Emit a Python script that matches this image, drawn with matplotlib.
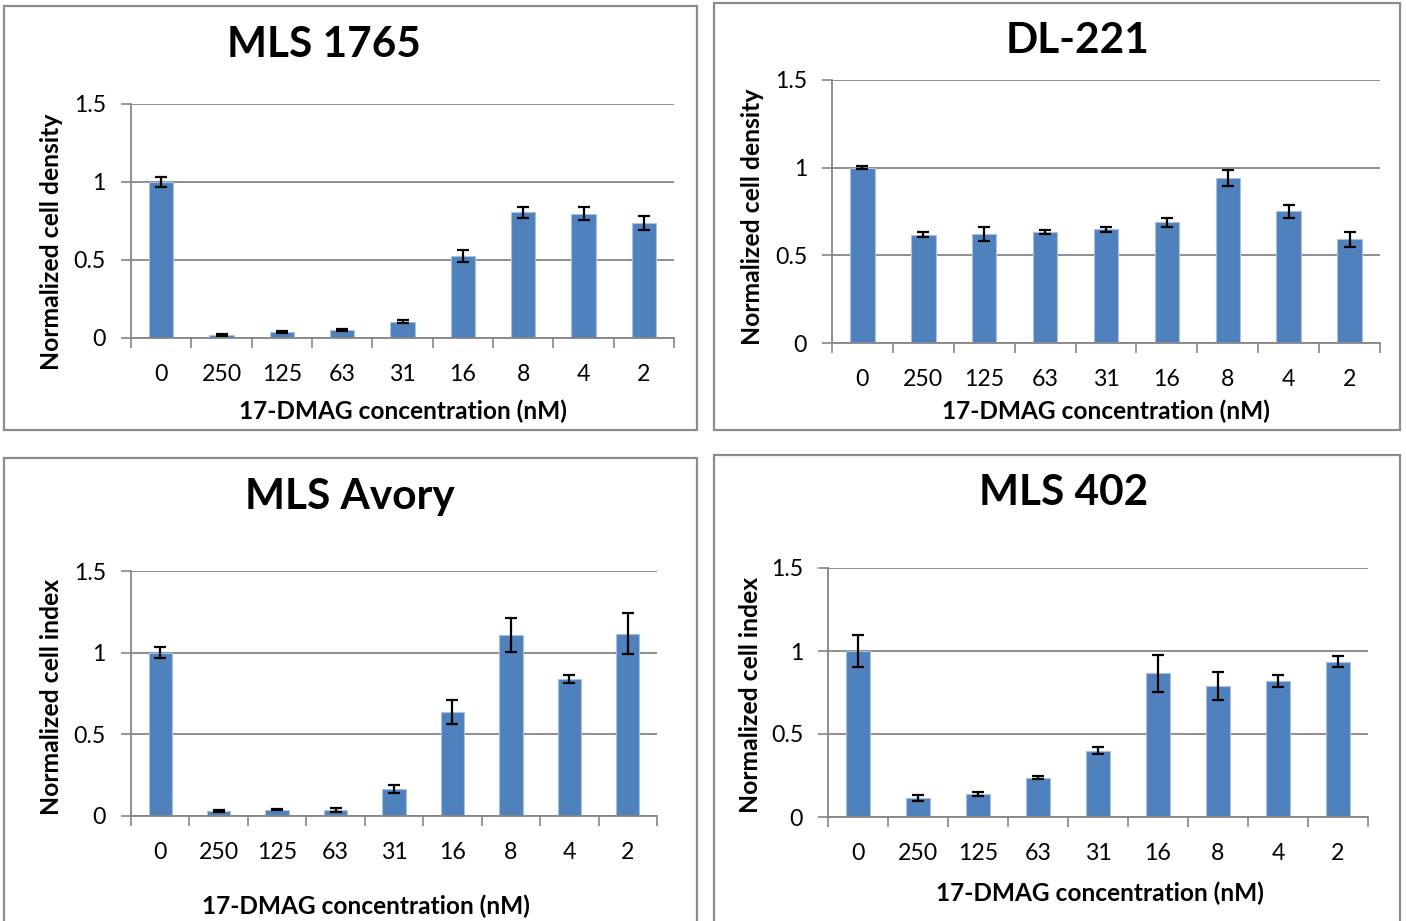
import matplotlib
matplotlib.use("Agg")
import matplotlib.pyplot as plt
from matplotlib.patches import Rectangle
import numpy as np

plt.rcParams['font.family'] = ['Lato', 'DejaVu Sans']

W, H = 1406, 921

# 17-DMAG concentrations (nM), as printed under the bars
concentrations = ["0", "250", "125", "63", "31", "16", "8", "4", "2"]

mls1765_mean = [1.00, 0.02, 0.04, 0.05, 0.105, 0.525, 0.805, 0.798, 0.736]
mls1765_err = [0.034, 0.005, 0.005, 0.006, 0.012, 0.040, 0.036, 0.042, 0.045]

dl221_mean = [1.00, 0.617, 0.623, 0.633, 0.648, 0.689, 0.941, 0.750, 0.591]
dl221_err = [0.010, 0.015, 0.040, 0.014, 0.015, 0.026, 0.045, 0.038, 0.042]

avory_mean = [1.00, 0.031, 0.039, 0.037, 0.165, 0.637, 1.108, 0.839, 1.116]
avory_err = [0.035, 0.005, 0.005, 0.011, 0.025, 0.076, 0.104, 0.024, 0.126]

mls402_mean = [1.00, 0.113, 0.139, 0.237, 0.400, 0.865, 0.787, 0.821, 0.936]
mls402_err = [0.096, 0.019, 0.012, 0.010, 0.021, 0.110, 0.085, 0.037, 0.031]

BAR = "#4F81BD"
GRID = "#868686"
FRAME = "#8C8C8C"


def px_rect(x0, y0, x1, y1):
    """pixel box (top-left origin) -> figure fraction [l, b, w, h]"""
    return [x0 / W, 1 - y1 / H, (x1 - x0) / W, (y1 - y0) / H]


def draw_panel(fig, frame, axbox, title, title_xy, ylabel, ylabel_xy,
               xlabel_xy, means, errs):
    l, b, w, h = px_rect(*frame)
    fig.patches.append(Rectangle((l, b), w, h, transform=fig.transFigure,
                                 fill=False, edgecolor=FRAME, linewidth=1.6))
    ax = fig.add_axes(px_rect(*axbox))
    x = np.arange(len(concentrations))
    ax.set_axisbelow(True)
    ax.bar(x, means, width=0.4, color=BAR, edgecolor="#A9C0DF", linewidth=0.8,
           zorder=2)
    ax.errorbar(x, means, yerr=errs, fmt="none", ecolor="black",
                elinewidth=1.6, capsize=4.3, capthick=1.6, zorder=3)
    ax.set_xlim(-0.5, len(concentrations) - 0.5)
    ax.set_ylim(0, 1.5)
    ax.set_yticks([0, 0.5, 1, 1.5], ["0", "0.5", "1", "1.5"])
    ax.set_xticks(x, concentrations)
    ax.set_xticks(np.arange(-0.5, len(concentrations)), minor=True)
    ax.tick_params(axis="x", which="major", length=0, pad=19, labelsize=16.7)
    ax.tick_params(axis="x", which="minor", length=7, width=1.2, color=GRID)
    ax.tick_params(axis="y", length=7, width=1.2, color=GRID, pad=11,
                   labelsize=16.7)
    ax.yaxis.grid(True, color=GRID, linewidth=1.3)
    for side in ("top", "right"):
        ax.spines[side].set_visible(False)
    for side in ("left", "bottom"):
        ax.spines[side].set_color(GRID)
        ax.spines[side].set_linewidth(1.3)
    ax.spines["bottom"].set_zorder(4)

    fig.text(title_xy[0] / W, 1 - title_xy[1] / H, title, ha="center",
             va="center", fontsize=30.5, fontweight="bold")
    fig.text(ylabel_xy[0] / W, 1 - ylabel_xy[1] / H, ylabel, ha="center",
             va="center", rotation=90, fontsize=17.8, fontweight="bold")
    fig.text(xlabel_xy[0] / W, 1 - xlabel_xy[1] / H,
             "17-DMAG concentration (nM)", ha="center", va="center",
             fontsize=17.6, fontweight="bold")
    return ax


fig = plt.figure(figsize=(W / 100, H / 100), dpi=100)

draw_panel(fig, (4, 6, 697, 430), (131, 104, 674, 338), "MLS 1765", (324, 45),
           "Normalized cell density", (52, 242), (403, 411),
           mls1765_mean, mls1765_err)
draw_panel(fig, (714, 3, 1400, 430), (832, 80, 1380, 343), "DL-221", (1078, 41),
           "Normalized cell density", (752, 217), (1106, 411),
           dl221_mean, dl221_err)
draw_panel(fig, (4, 458, 697, 940), (131, 571, 657, 816), "MLS Avory", (350, 497),
           "Normalized cell index", (52, 697), (366, 906),
           avory_mean, avory_err)
draw_panel(fig, (714, 455, 1400, 940), (828, 568, 1368, 817), "MLS 402", (1064, 493),
           "Normalized cell index", (751, 695), (1100, 893),
           mls402_mean, mls402_err)

fig.savefig("out.png", dpi=100)
